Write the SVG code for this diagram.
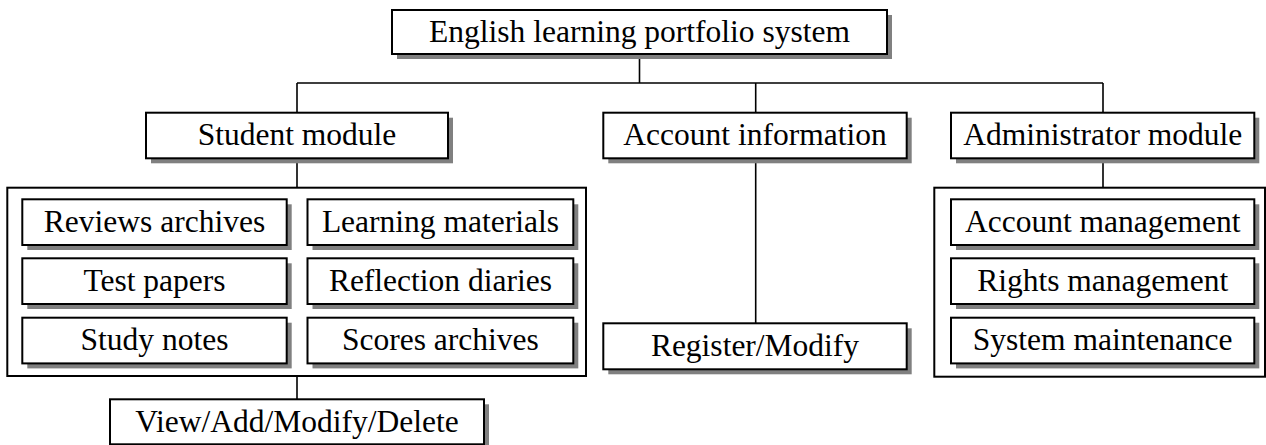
<svg xmlns="http://www.w3.org/2000/svg" width="1266" height="445" viewBox="0 0 1266 445">
<style>
.box{fill:#fff;stroke:#000;stroke-width:2}
.shadow{fill:#808080}
.frame{fill:none;stroke:#000;stroke-width:2}
.t{font-family:"Liberation Serif","Times New Roman",serif;font-size:31.5px;text-anchor:middle;fill:#000}
.conn{stroke:#000;stroke-width:1.6;fill:none}
</style>
<rect width="1266" height="445" fill="#fff"/>
<g id="connectors">
<path class="conn" d="M639.5,54 V83 M297,83 H1103 M297,83 V112.7 M755.7,83 V112.7 M1103,83 V112.7 M297,158.3 V187.7 M755.7,158.3 V323.3 M1103,158.3 V187.7 M297,376 V399.3"/>
</g>
<g id="root">
<rect class="shadow" x="397" y="15" width="495" height="44"/>
<rect class="box" x="392" y="10" width="495" height="44"/>
<text class="t" x="639.5" y="42">English learning portfolio system</text>
</g>
<g id="student-module">
<rect class="shadow" x="151" y="117.7" width="302" height="45.6"/>
<rect class="box" x="146" y="112.7" width="302" height="45.6"/>
<text class="t" x="297" y="145">Student module</text>
</g>
<g id="account-information">
<rect class="shadow" x="608.3" y="117.7" width="303.4" height="45.6"/>
<rect class="box" x="603.3" y="112.7" width="303.4" height="45.6"/>
<text class="t" x="755" y="145">Account information</text>
</g>
<g id="administrator-module">
<rect class="shadow" x="956" y="117.7" width="303.3" height="45.6"/>
<rect class="box" x="951" y="112.7" width="303.3" height="45.6"/>
<text class="t" x="1102.7" y="145">Administrator module</text>
</g>
<g id="student-group">
<rect class="frame" x="7.3" y="187.7" width="578.7" height="188.3"/>
</g>
<g id="reviews-archives">
<rect class="shadow" x="27.3" y="204.3" width="264.4" height="45.7"/>
<rect class="box" x="22.3" y="199.3" width="264.4" height="45.7"/>
<text class="t" x="154.5" y="231.5">Reviews archives</text>
</g>
<g id="learning-materials">
<rect class="shadow" x="312.5" y="204.3" width="265.8" height="45.7"/>
<rect class="box" x="307.5" y="199.3" width="265.8" height="45.7"/>
<text class="t" x="440.4" y="231.5">Learning materials</text>
</g>
<g id="test-papers">
<rect class="shadow" x="27.3" y="263.3" width="264.4" height="45.7"/>
<rect class="box" x="22.3" y="258.3" width="264.4" height="45.7"/>
<text class="t" x="154.5" y="290.5">Test papers</text>
</g>
<g id="reflection-diaries">
<rect class="shadow" x="312.5" y="263.3" width="265.8" height="45.7"/>
<rect class="box" x="307.5" y="258.3" width="265.8" height="45.7"/>
<text class="t" x="440.4" y="290.5">Reflection diaries</text>
</g>
<g id="study-notes">
<rect class="shadow" x="27.3" y="322.7" width="264.4" height="45.7"/>
<rect class="box" x="22.3" y="317.7" width="264.4" height="45.7"/>
<text class="t" x="154.5" y="349.9">Study notes</text>
</g>
<g id="scores-archives">
<rect class="shadow" x="312.5" y="322.7" width="265.8" height="45.7"/>
<rect class="box" x="307.5" y="317.7" width="265.8" height="45.7"/>
<text class="t" x="440.4" y="349.9">Scores archives</text>
</g>
<g id="view-add-modify-delete">
<rect class="shadow" x="115" y="404.3" width="374" height="45"/>
<rect class="box" x="110" y="399.3" width="374" height="45"/>
<text class="t" x="297" y="431.5">View/Add/Modify/Delete</text>
</g>
<g id="register-modify">
<rect class="shadow" x="608.3" y="328.3" width="303.4" height="46"/>
<rect class="box" x="603.3" y="323.3" width="303.4" height="46"/>
<text class="t" x="755" y="355.8">Register/Modify</text>
</g>
<g id="admin-group">
<rect class="frame" x="934.3" y="187.7" width="330.7" height="189"/>
</g>
<g id="account-management">
<rect class="shadow" x="956" y="204.3" width="303.3" height="45.7"/>
<rect class="box" x="951" y="199.3" width="303.3" height="45.7"/>
<text class="t" x="1102.7" y="231.5">Account management</text>
</g>
<g id="rights-management">
<rect class="shadow" x="956" y="263.3" width="303.3" height="45.7"/>
<rect class="box" x="951" y="258.3" width="303.3" height="45.7"/>
<text class="t" x="1102.7" y="290.5">Rights management</text>
</g>
<g id="system-maintenance">
<rect class="shadow" x="956" y="322.7" width="303.3" height="45.7"/>
<rect class="box" x="951" y="317.7" width="303.3" height="45.7"/>
<text class="t" x="1102.7" y="349.9">System maintenance</text>
</g>
</svg>
